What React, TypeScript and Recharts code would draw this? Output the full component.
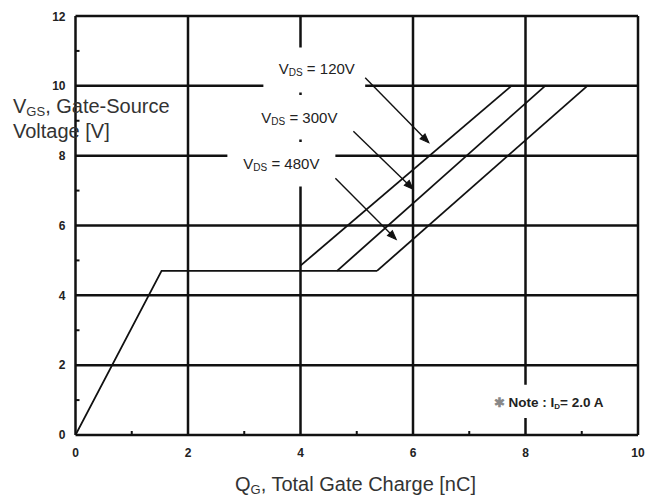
import React from 'react';
import { LineChart, Line, XAxis, YAxis, CartesianGrid, ReferenceArea, ReferenceDot } from 'recharts';

const FONT = "'Liberation Sans', Arial, Helvetica, sans-serif";

// axis ticks
const xTicks = [0, 2, 4, 6, 8, 10];
const yTicks = [0, 2, 4, 6, 8, 10, 12];
const xMinorTicks = [1, 3, 5, 7, 9];
const yMinorTicks = [1, 3, 5, 7, 9, 11];

// gate charge curves (Qg [nC], Vgs [V])
const commonCurve = [
  { x: 0, y: 0 },
  { x: 1.53, y: 4.7 },
  { x: 5.36, y: 4.7 },
];
const vds120 = [
  { x: 4.0, y: 4.85 },
  { x: 7.75, y: 10 },
];
const vds300 = [
  { x: 4.65, y: 4.7 },
  { x: 8.35, y: 10 },
];
const vds480 = [
  { x: 5.36, y: 4.7 },
  { x: 9.1, y: 10 },
];

// annotation leader lines
const leader120 = [
  { x: 5.15, y: 10.23 },
  { x: 6.27, y: 8.39 },
];
const leader300 = [
  { x: 4.94, y: 8.7 },
  { x: 5.99, y: 7.06 },
];
const leader480 = [
  { x: 4.62, y: 7.35 },
  { x: 5.69, y: 5.62 },
];

// annotation labels
const labelTexts = ['120V', '300V', '480V'];
const labelX = [4.29, 3.98, 3.66];
const labelY = [10.49, 9.08, 7.75];

// white label backgrounds (x1, x2, y1, y2)
const labelBoxes = [
  [3.34, 5.15, 9.81, 11.1],
  [3.3, 4.9, 8.46, 9.74],
  [2.7, 4.62, 7.12, 8.39],
  [7.37, 9.55, 0.49, 1.44],
];

const noteX = 8.41;
const noteY = 0.95;

const XTick = (p: any) => (
  <text x={p.x} y={p.y + 22} textAnchor="middle" fontFamily={FONT} fontSize={12} fontWeight="bold" fill="#222">
    {p.payload.value}
  </text>
);

const YTick = (p: any) => (
  <text x={p.x - 10} y={p.y + 4.3} textAnchor="end" fontFamily={FONT} fontSize={12} fontWeight="bold" fill="#222">
    {p.payload.value}
  </text>
);

const minorXTickShape = (p: any) => (
  <line x1={p.cx} x2={p.cx} y1={p.cy} y2={p.cy - 4} stroke="#111" strokeWidth={2} />
);
const minorYTickShape = (p: any) => (
  <line x1={p.cx} x2={p.cx + 4} y1={p.cy} y2={p.cy} stroke="#111" strokeWidth={2} />
);

const vdsLabel = (value: string) => (p: any) => (
  <text x={p.cx} y={p.cy + 5} textAnchor="middle" fontFamily={FONT} fontSize={15} fill="#222">
    V<tspan fontSize={10} dy={2}>DS</tspan>
    <tspan dy={-2}>{` = ${value}`}</tspan>
  </text>
);

const arrowHead = (p: any) => (
  <polygon
    points="1,0 -8,-3.5 -8,3.5"
    transform={`translate(${p.cx},${p.cy}) rotate(45)`}
    fill="#111"
    stroke="#111"
    strokeWidth={1}
  />
);

const noteShape = (p: any) => (
  <text x={p.cx} y={p.cy + 5} textAnchor="middle" fontFamily={FONT} fontSize={13.5} fontWeight="bold" fill="#222">
    <tspan fill="#888" fontSize={13}>✱</tspan>
    <tspan>{'  Note : I'}</tspan>
    <tspan fontSize={8} dy={2}>D</tspan>
    <tspan dy={-2}>= 2.0 A</tspan>
  </text>
);

const curveStyle = { stroke: '#111', strokeWidth: 1.8 };
const leaderStyle = { stroke: '#111', strokeWidth: 1.4 };

export default function App() {
  return (
    <div style={{ position: 'relative', width: 648, height: 489 }}>
      <LineChart width={648} height={489} margin={{ top: 8, right: 18, bottom: 0, left: 0 }}>
        <CartesianGrid stroke="#111" strokeWidth={2.5} />
        <XAxis
          dataKey="x"
          type="number"
          domain={[0, 10]}
          ticks={xTicks}
          tick={XTick}
          tickLine={false}
          tickSize={0}
          tickMargin={0}
          axisLine={false}
          height={62}
          allowDataOverflow
        />
        <YAxis
          type="number"
          domain={[0, 12]}
          ticks={yTicks}
          tick={YTick}
          tickLine={false}
          tickSize={0}
          tickMargin={0}
          axisLine={false}
          width={67.5}
          allowDataOverflow
        />
        {labelBoxes.map((b, i) => (
          <ReferenceArea
            key={`box${i}`}
            x1={b[0]}
            x2={b[1]}
            y1={b[2]}
            y2={b[3]}
            fill="#fff"
            fillOpacity={1}
            stroke="none"
          />
        ))}
        {xMinorTicks.map((v) => (
          <ReferenceDot key={`mx${v}`} x={v} y={0} r={1} shape={minorXTickShape} />
        ))}
        {yMinorTicks.map((v) => (
          <ReferenceDot key={`my${v}`} x={0} y={v} r={1} shape={minorYTickShape} />
        ))}
        <Line data={commonCurve} dataKey="y" {...curveStyle} dot={false} isAnimationActive={false} />
        <Line data={vds120} dataKey="y" {...curveStyle} dot={false} isAnimationActive={false} />
        <Line data={vds300} dataKey="y" {...curveStyle} dot={false} isAnimationActive={false} />
        <Line data={vds480} dataKey="y" {...curveStyle} dot={false} isAnimationActive={false} />
        <Line data={leader120} dataKey="y" {...leaderStyle} dot={false} isAnimationActive={false} />
        <Line data={leader300} dataKey="y" {...leaderStyle} dot={false} isAnimationActive={false} />
        <Line data={leader480} dataKey="y" {...leaderStyle} dot={false} isAnimationActive={false} />
        <ReferenceDot x={leader120[1].x} y={leader120[1].y} r={3} shape={arrowHead} />
        <ReferenceDot x={leader300[1].x} y={leader300[1].y} r={3} shape={arrowHead} />
        <ReferenceDot x={leader480[1].x} y={leader480[1].y} r={3} shape={arrowHead} />
        {labelTexts.map((t, i) => (
          <ReferenceDot key={`lbl${i}`} x={labelX[i]} y={labelY[i]} r={1} shape={vdsLabel(t)} />
        ))}
        <ReferenceDot x={noteX} y={noteY} r={1} shape={noteShape} />
      </LineChart>
      <svg
        width={648}
        height={489}
        style={{ position: 'absolute', left: 0, top: 0, pointerEvents: 'none' }}
      >
        <text x={5} y={105} fontFamily={FONT} fontSize={20} fill="#333">
          V<tspan fontSize={13} dy={3}>GS</tspan>
          <tspan dy={-3}>, Gate-Source</tspan>
        </text>
        <text x={5} y={130} fontFamily={FONT} fontSize={20} fill="#333">
          Voltage [V]
        </text>
        <text x={347.5} y={483} textAnchor="middle" fontFamily={FONT} fontSize={20} fill="#333">
          Q<tspan fontSize={13} dy={3}>G</tspan>
          <tspan dy={-3}>, Total Gate Charge [nC]</tspan>
        </text>
      </svg>
    </div>
  );
}
